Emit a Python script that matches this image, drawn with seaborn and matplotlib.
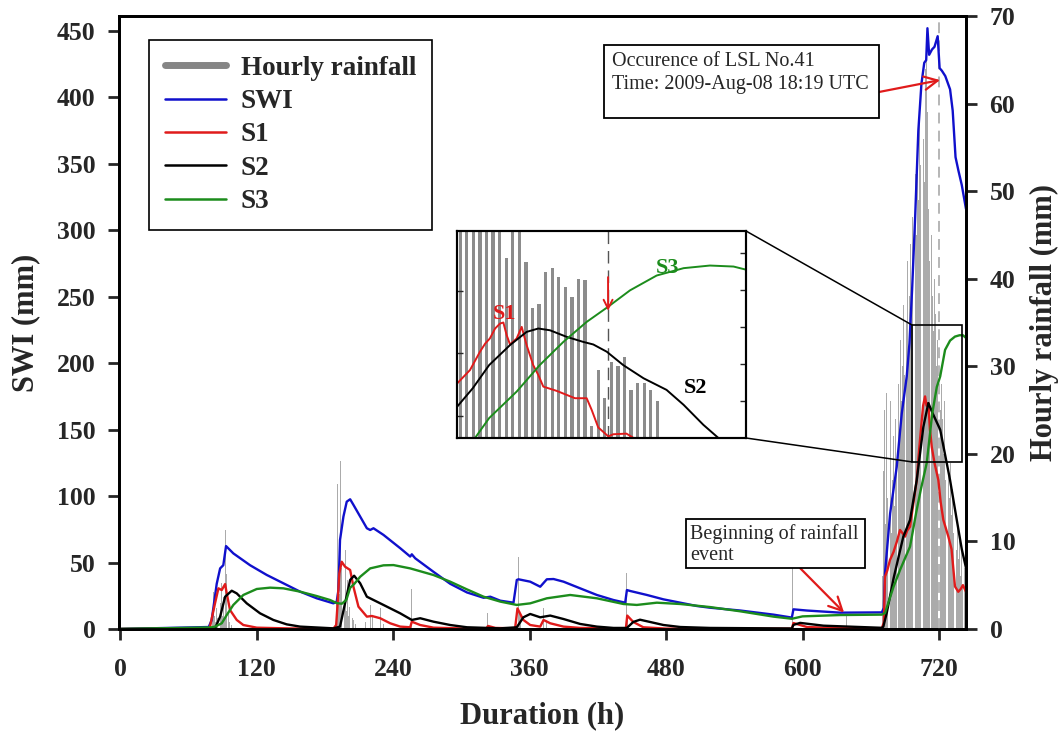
import matplotlib
matplotlib.use("Agg")
import numpy as np
import pandas as pd
import matplotlib.pyplot as plt
import seaborn as sns
from matplotlib.patches import Rectangle, ConnectionPatch
from matplotlib.lines import Line2D

# ------------------------------------------------------------------ data
rain_hours = [80, 81, 82, 83, 84, 85, 86, 87, 88, 89, 90, 91, 92, 93, 94, 95, 96, 98,
              189, 190, 191, 192, 193, 194, 195, 196, 197, 198, 199, 200, 201, 202, 204, 205, 207,
              216, 218, 220, 222, 225, 229, 232, 256,
              323, 349, 350, 351, 352, 372, 375, 445, 446, 591, 639,
              670, 671, 672, 673, 674, 675, 676, 677, 678, 679, 680, 681, 682, 683, 684, 685,
              686, 687, 688, 689, 690, 691, 692, 693, 694, 695, 696, 697, 698, 699, 700, 701,
              702, 703, 704, 705, 706, 707, 708, 709, 710, 711, 712, 713, 714, 715, 716, 717,
              718, 719, 720, 721, 722, 723, 724, 725, 726, 727, 728, 729, 730, 731, 732, 733,
              734, 735, 736, 737, 738, 739, 740, 741, 742, 743]
rain_mm = [1.2, 2.0, 4.2, 1.5, 0.8, 2.4, 1.2, 9.9, 3.0, 5.2, 1.5, 3.7, 1.0, 11.3, 6.3, 1.8, 0.8, 0.5,
           1.0, 3.5, 16.6, 6.0, 4.0, 19.2, 7.0, 12.0, 3.0, 9.0, 2.0, 5.6, 1.5, 2.5, 1.2, 1.0, 0.6,
           0.8, 1.5, 2.7, 1.4, 1.0, 2.4, 0.6, 4.6,
           1.8, 1.0, 8.2, 2.0, 1.5, 2.4, 1.0, 6.4, 1.0, 7.0, 1.5,
           6, 18, 25, 12, 27, 15, 20, 26, 11, 17, 22, 14, 24, 19, 28, 21,
           33, 26, 30, 37, 29, 35, 42, 31, 38, 44, 36, 47, 40, 52, 45, 55,
           49, 58, 53, 62, 56, 51, 64, 68, 59, 48, 42, 45, 38, 34, 40, 36,
           30, 33, 31, 25, 28, 24, 20, 26, 17, 22, 18, 15, 19, 13, 16, 11,
           14, 9, 12, 8, 10, 6, 9, 5, 7, 4]

swi_hours = [0, 78, 80.6, 85, 88, 90.8, 93.2, 99.6, 114.3, 128.9, 143.6, 158.3, 172.9, 187.6, 190.5,
             192, 193.4, 196.4, 199.3, 202.3, 205.2, 211.1, 217, 219.9, 222.8, 231.6, 246.3, 255.1,
             256.5, 259.5, 275.6, 290.3, 305, 319.6, 325.5, 334.3, 345.9, 348.8, 350.3, 360.6, 369.4,
             375.2, 381.1, 389.9, 404.5, 419.2, 433.8, 444.1, 445.6, 448.5, 463.2, 477.8, 492.5, 507.1,
             518.8, 545.3, 574.5, 590.6, 592, 603.8, 633, 669.7, 671.5, 672.5, 677, 682.8, 687.2,
             691.6, 694, 696.3, 699, 701.8, 704.5, 707, 708.7, 709.8, 711.3, 713.8, 716, 718.8,
             720.5, 722.5, 725.5, 729.7, 732, 734.5, 737, 740, 743.7]
swi_mm = [0, 1.5, 6.8, 34, 45.6, 48, 62.4, 56.9, 48, 40.7, 34.4, 28.1, 23.1, 19.3, 20.6,
          29.3, 67, 84.6, 95.8, 97.6, 93.4, 84.6, 75.8, 74.5, 75.8, 70.8, 60.8, 54.5,
          56.2, 53.2, 43, 34, 27.5, 23.5, 24.3, 21.3, 19.8, 36.9, 37.4, 35.6, 31.8,
          37.4, 37.6, 35.6, 30.6, 25.6, 21.8, 19.8, 29.3, 28.6, 25.6, 22.3, 19.8, 17.3,
          16, 13.9, 10.8, 8.6, 14.8, 13.9, 12.3, 12.5, 16, 42, 87, 122, 162,
          190, 215, 255, 310, 375, 410, 426, 428, 452, 432, 436, 438, 446,
          422, 420, 416, 406, 390, 355, 345, 334, 316]

s1_hours = [0, 78, 79.1, 83.5, 86.5, 89.4, 92.4, 93.8, 96.7, 102.6, 108.4, 120.2, 150, 187.6, 190,
            191.1, 192.8, 194.9, 197.8, 202.3, 205.2, 209.6, 217, 221.4, 228.7, 237.5, 246.3, 255.1,
            256.5, 263.9, 275.6, 305, 322, 323.5, 330, 347.3, 349.4, 351.7, 354.6, 360.6, 369.4,
            372.3, 378.2, 389.9, 404.5, 444.7, 445.9, 451.2, 460, 480, 590.6, 592, 603.8, 633,
            669.7, 671.5, 672.5, 674.5, 676.9, 680, 683, 685.7, 688, 690.1, 692, 694.5, 697,
            700.4, 702.5, 704.8, 706, 707.7, 709, 710.6, 712, 713.6, 716, 719.4, 721.5, 723.8,
            728.2, 731, 734, 736.9, 739, 741, 743.7]
s1_mm = [0, 0.3, 1.8, 19.3, 30.6, 29.3, 33.8, 26.8, 14.3, 6.8, 3.0, 1.0, 0.4, 0.3, 3,
         16.8, 41.9, 50.6, 46.9, 44.4, 31.8, 16.8, 9.3, 9.8, 8.1, 4.3, 1.8, 1.3,
         5.5, 3.0, 1.0, 0.3, 0.3, 2.3, 0.8, 0.5, 15.5, 11.6, 6.8, 3.0, 1.8,
         6.8, 4.3, 1.8, 0.8, 0.5, 10.1, 5.3, 1.3, 0.3, 0.2, 4.5, 1.5, 0.6,
         0.5, 5, 39.4, 44, 52, 58, 66, 74.5, 72, 69.5, 74, 77, 92,
         112, 135, 157, 168, 175, 168, 170, 150, 137, 125, 112, 95, 82,
         69.5, 60, 32, 28, 30, 33, 28]

s2_hours = [0, 83.5, 88, 92.4, 98.2, 102.6, 111.4, 123.1, 134.8, 146.5, 158.3, 187.6, 193.4, 197.8,
            202.3, 205.8, 211.1, 217, 231.6, 246.3, 256.5, 263.9, 275.6, 290.3, 305, 334.3, 348.8,
            354.6, 360.6, 369.4, 378.2, 389.9, 404.5, 419.2, 433.8, 445.6, 451.2, 457.1, 465.9,
            477.8, 492.5, 518.8, 590.6, 592, 597.9, 618.4, 669.7, 671, 674, 680, 688.6, 694.5,
            700.4, 706.2, 710.6, 714, 721, 729.7, 735.6, 740, 743.7]
s2_mm = [0, 0.5, 9.3, 24.3, 28.8, 26.8, 19.3, 11.8, 6.8, 3.5, 1.8, 0.5, 1.8, 19.3,
         36.9, 40.1, 34.4, 24.3, 18.1, 11.8, 6.8, 8.1, 5.5, 3.0, 1.3, 0.5, 1.3,
         8.8, 11.3, 8.8, 10.1, 7.5, 3.8, 1.8, 0.8, 0.8, 5.3, 7.0, 5.3,
         3.0, 1.5, 0.8, 0.4, 3.1, 4.6, 2.5, 0.9, 1.7, 12, 38, 69.5, 82,
         112, 152, 170, 163, 150, 112, 82, 60, 46]

s3_hours = [0, 80, 83.5, 89.4, 93.8, 99.6, 108.4, 120.2, 131.9, 143.6, 158.3, 172.9, 184.7, 190.5,
            195, 199, 202.3, 206, 211.1, 219.9, 231.6, 240.4, 255.1, 275.6, 290.3, 305, 319.6,
            334.3, 348.8, 360.6, 375.2, 395.7, 419.2, 442.6, 454.3, 471.9, 492.5, 518.8, 545.3,
            574.5, 590.6, 600, 633, 669.7, 672.5, 680, 686, 694.5, 700, 704, 709.2, 714, 718,
            721, 725.3, 729.7, 734, 738, 741, 743.7]
s3_mm = [0, 1.2, 1.8, 4.3, 10.5, 18.1, 25.6, 30.1, 31.1, 30.6, 28.1, 24.8, 21.8, 19.5,
         19, 22, 31, 34, 39.3, 45.6, 47.9, 48.1, 45.6, 40.6, 35.6, 29.8, 24.3,
         20.6, 18.1, 19.3, 23.1, 25.6, 23.1, 18.8, 18.1, 19.8, 18.8, 16.5, 13.3,
         9.3, 7.7, 9.5, 10.5, 10.8, 12, 31.8, 45, 62, 88, 105, 125, 162, 182,
         190, 210, 217, 220, 221, 221, 219]

# inset (zoomed view of the landslide period)
inset_rain_hours = [697.5, 698.5, 699.5, 700.5, 701.5, 702.5, 703.5, 704.5, 705.5, 706.5, 707.5,
                    708.5, 709.5, 710.5, 711.5, 712.5, 713.5, 714.5, 715.5, 716.5, 717.5, 718.5,
                    719.5, 720.5, 721.5, 722.5, 723.5, 724.5, 725.5, 726.5, 727.5]
inset_rain_mm = [75, 75, 75, 75, 75, 75, 75, 61, 75, 75, 59.5,
                 43.8, 45.4, 56.1, 57.4, 54.4, 51, 47.7, 53.8, 53.3, 3.9, 23,
                 13.5, 25.8, 24.2, 27.5, 16.3, 18.5, 18.5, 16.3, 12.6]
inset_s1_hours = [697.05, 698.98, 700.5, 701.3, 702.0, 702.8, 703.55, 704.06, 704.56, 705.07, 706.08,
                  706.85, 707.6, 708.6, 709.38, 710.14, 712.17, 714.96, 716.74, 717.5, 718.5, 720.04,
                  720.8, 722.8, 723.75]
inset_s1_mm = [125.9, 136.5, 151.2, 157.8, 161.8, 169.8, 173.8, 174.6, 164.5, 157, 161.8,
               171.1, 156.5, 140.5, 132.5, 123.2, 119.8, 113.9, 113.9, 104.6, 90.5, 83.3,
               85, 85.5, 82.5]
inset_s2_hours = [697.05, 699.4, 701.9, 705.07, 707.6, 709.38, 711.15, 713.7, 716.2, 717.75, 719.8,
                  722.3, 725.4, 728.9, 731.5, 734.5, 736.8]
inset_s2_mm = [107.3, 121.9, 140.5, 156.5, 167.1, 169.8, 168.4, 163.1, 159.1, 157, 151.2,
               140.5, 129.9, 120.6, 108.6, 92.6, 82]
inset_s3_hours = [699.74, 701.9, 706.08, 709.6, 713.2, 716.74, 719.94, 723.34, 727.4, 731.5, 735.5,
                  739.1, 741]
inset_s3_mm = [82, 98, 119.2, 140.5, 159.1, 175.1, 187, 200.4, 212.3, 218.2, 220.3, 219.5, 217]

x_ticks = [0, 120, 240, 360, 480, 600, 720]
swi_ticks = [0, 50, 100, 150, 200, 250, 300, 350, 400, 450]
rain_ticks = [0, 10, 20, 30, 40, 50, 60, 70]
landslide_hour = 720

# ------------------------------------------------------------------ style
BLUE, RED, GREEN, BLACK = "#1010cc", "#e01b1b", "#1c8c1c", "#000000"
BAR_MAIN, BAR_INSET, BAR_LEG = "#ababab", "#8c8c8c", "#858585"

sns.set_style("ticks")
plt.rcParams['font.family'] = ['Liberation Serif', 'DejaVu Serif']
plt.rcParams['font.weight'] = 'bold'
plt.rcParams['axes.labelweight'] = 'bold'

W, H = 1061, 735
def fx(px):
    return px / W
def fy(py):
    return 1 - py / H

fig = plt.figure(figsize=(W / 100, H / 100), dpi=100)
ax = fig.add_axes([fx(119), fy(629), fx(966) - fx(119), fy(16) - fy(629)])
axr = ax.twinx()
axr.set_zorder(1)
ax.set_zorder(2)
ax.patch.set_visible(False)

# rainfall bars (right axis)
sns.histplot(x=rain_hours, weights=rain_mm, discrete=True, shrink=0.8, color=BAR_MAIN,
             edgecolor="none", linewidth=0, alpha=1, ax=axr)
axr.set_ylim(0, 70)
axr.set_yticks(rain_ticks)
axr.set_ylabel("Hourly rainfall (mm)", fontsize=22, fontweight="bold")
axr.yaxis.set_label_coords(1.0756, 0.5)

# landslide dashed marker
ax.axvline(landslide_hour, ymin=0, ymax=0.99, color="#b0b0b0", lw=1.3, ls=(0, (6, 4)), zorder=1.5)

# storage lines
for hrs, vals, col in [(swi_hours, swi_mm, BLUE), (s1_hours, s1_mm, RED),
                       (s2_hours, s2_mm, BLACK), (s3_hours, s3_mm, GREEN)]:
    sns.lineplot(x=hrs, y=vals, color=col, lw=1.7, ax=ax, estimator=None, sort=False)

ax.set_xlim(-0.9, 743.7)
ax.set_ylim(0, 461.2)
ax.set_xticks(x_ticks)
ax.set_yticks(swi_ticks)
ax.set_xlabel("Duration (h)", fontsize=22, fontweight="bold")
ax.set_ylabel("SWI (mm)", fontsize=22, fontweight="bold")
ax.xaxis.set_label_coords(0.5, -0.118)
ax.yaxis.set_label_coords(-0.093, 0.5)

for a in (ax, axr):
    for sp in a.spines.values():
        sp.set_linewidth(2)
        sp.set_color("black")
ax.tick_params(axis="x", direction="out", length=8, width=2, labelsize=18.5, pad=13, bottom=True)
ax.tick_params(axis="y", direction="out", length=8, width=2, labelsize=18.5, pad=9, left=True)
axr.tick_params(axis="y", direction="out", length=8, width=2, labelsize=18.5, pad=9, right=True)

# zoom rectangle in main axes
ax.add_patch(Rectangle((696.3, 125.7), 740.2 - 696.3, 228.7 - 125.7, fill=False,
                       ec="black", lw=1.2, zorder=5))

# legend
handles = [Line2D([0], [0], color=BAR_LEG, lw=5),
           Line2D([0], [0], color=BLUE, lw=1.8),
           Line2D([0], [0], color=RED, lw=1.8),
           Line2D([0], [0], color=BLACK, lw=1.8),
           Line2D([0], [0], color=GREEN, lw=1.8)]
labels = ["Hourly rainfall", "SWI", "S1", "S2", "S3"]
leg = ax.legend(handles, labels, loc="upper left", bbox_to_anchor=(fx(149), fy(40)),
                bbox_transform=fig.transFigure, borderaxespad=0, frameon=True, fancybox=False,
                prop={"family": "Liberation Serif", "weight": "bold", "size": 19.5},
                handlelength=2.25, handletextpad=0.55, labelspacing=0.31, borderpad=0.58)
leg.get_frame().set_edgecolor("black")
leg.get_frame().set_linewidth(1.2)
leg.get_frame().set_alpha(1)

# annotation boxes
fig.add_artist(Rectangle((fx(604), fy(118)), fx(879) - fx(604), fy(45) - fy(118),
                         transform=fig.transFigure, fc="white", ec="black", lw=1.3, zorder=20))
fig.text(fx(612), fy(62), "Occurence of LSL No.41", fontsize=14.5, fontweight="normal",
         ha="left", va="center", zorder=21)
fig.text(fx(612), fy(84), "Time: 2009-Aug-08 18:19 UTC", fontsize=14.5, fontweight="normal",
         ha="left", va="center", zorder=21)
ax.annotate("", xy=(720.9, 413), xycoords="data", xytext=(fx(879), fy(92)),
            textcoords="figure fraction",
            arrowprops=dict(arrowstyle="->", color=RED, lw=1.6, mutation_scale=24,
                            shrinkA=0, shrinkB=0))

fig.add_artist(Rectangle((fx(686), fy(568)), fx(865) - fx(686), fy(519) - fy(568),
                         transform=fig.transFigure, fc="white", ec="black", lw=1.3, zorder=20))
fig.text(fx(690), fy(534), "Beginning of rainfall", fontsize=14.5, fontweight="normal",
         ha="left", va="center", zorder=21)
fig.text(fx(690), fy(556), "event", fontsize=14.5, fontweight="normal",
         ha="left", va="center", zorder=21)
ax.annotate("", xy=(636.5, 12.4), xycoords="data", xytext=(fx(800), fy(568)),
            textcoords="figure fraction",
            arrowprops=dict(arrowstyle="->", color=RED, lw=1.6, mutation_scale=24,
                            shrinkA=0, shrinkB=0))

# ------------------------------------------------------------------ inset
axi = fig.add_axes([fx(457), fy(438), fx(746) - fx(457), fy(231) - fy(438)])
axi_r = axi.twinx()
axi_r.set_zorder(10)
axi.set_zorder(11)
axi.patch.set_visible(False)
axi_r.patch.set_visible(True)
axi_r.patch.set_facecolor("white")

sns.histplot(x=inset_rain_hours, weights=inset_rain_mm, discrete=True, shrink=0.5, color=BAR_INSET,
             edgecolor="none", linewidth=0, alpha=1, ax=axi_r)
axi_r.set_ylim(0, 70)
axi_r.set_yticks([12.5, 25, 37.5, 50, 62.5])
axi_r.set_ylabel("")
axi_r.tick_params(axis="y", direction="in", length=4, width=1, labelright=False, right=True)

axi.axvline(landslide_hour, color="#555555", lw=1.0, ls=(0, (9, 5)), zorder=1.5)
for hrs, vals, col in [(inset_s1_hours, inset_s1_mm, RED), (inset_s2_hours, inset_s2_mm, BLACK),
                       (inset_s3_hours, inset_s3_mm, GREEN)]:
    sns.lineplot(x=hrs, y=vals, color=col, lw=1.4, ax=axi, estimator=None, sort=False)
axi.set_xlim(697, 741)
axi.set_ylim(82, 248)
axi.set_xticks([])
axi.set_yticks([100, 150, 200])
axi.tick_params(axis="y", direction="in", length=4, width=1, labelleft=False, left=True)
axi.set_xlabel("")
axi.set_ylabel("")
for a in (axi, axi_r):
    for sp in a.spines.values():
        sp.set_linewidth(1.5)
        sp.set_color("black")

axi.text(0.166, 0.60, "S1", transform=axi.transAxes, color=RED, fontsize=16, fontweight="bold",
         ha="center", va="center")
axi.text(0.727, 0.822, "S3", transform=axi.transAxes, color=GREEN, fontsize=16, fontweight="bold",
         ha="center", va="center")
axi.text(0.824, 0.24, "S2", transform=axi.transAxes, color=BLACK, fontsize=16, fontweight="bold",
         ha="center", va="center")
axi.annotate("", xy=(landslide_hour, 184), xytext=(landslide_hour, 211),
             arrowprops=dict(arrowstyle="->", color=RED, lw=1.4, mutation_scale=16,
                             shrinkA=0, shrinkB=0))

# connector lines from inset to zoom box
for ya, yb in [(1, 228.7), (0, 125.7)]:
    con = ConnectionPatch(xyA=(1, ya), coordsA=axi.transAxes, xyB=(696.3, yb),
                          coordsB=ax.transData, color="black", lw=1.1)
    con.set_zorder(12)
    fig.add_artist(con)

fig.savefig("out.png", dpi=100)
